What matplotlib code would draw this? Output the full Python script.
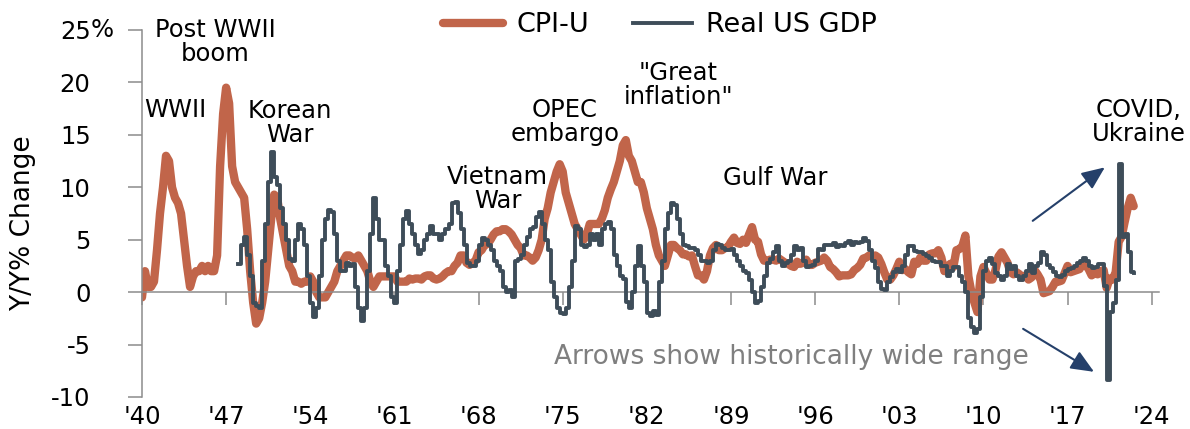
import numpy as np
import matplotlib
matplotlib.use("Agg")
import matplotlib.pyplot as plt

# CPI-U year-over-year % change, quarterly, 1940Q1 .. 2022Q3
cpi_start = 1940
cpi_yoy = [
    -0.5, 2.0, 0.5, 0.5,   1.0, 4.0, 7.5, 10.0,   13.0, 12.5, 10.0, 9.0,   8.5, 7.5, 5.0, 2.5,
    0.5, 1.5, 2.0, 2.0,    2.5, 2.0, 2.5, 2.0,    2.0, 3.5, 12.0, 17.0,   19.5, 18.0, 12.0, 10.5,
    10.0, 9.5, 9.0, 6.0,   2.0, -1.0, -3.0, -2.5,  -1.0, 1.0, 4.0, 7.0,   9.3, 9.0, 7.0, 5.5,
    4.0, 2.5, 2.0, 1.0,    1.0, 0.8, 1.0, 1.0,    1.5, 1.0, 0.0, -0.5,   -0.5, -0.5, 0.0, 0.5,
    1.0, 2.0, 2.5, 3.0,    3.5, 3.5, 3.3, 3.2,    3.5, 3.0, 2.5, 2.0,    1.0, 0.5, 1.0, 1.5,
    1.5, 1.5, 1.5, 1.5,    1.5, 1.0, 1.0, 1.0,    1.0, 1.3, 1.2, 1.3,    1.3, 1.2, 1.5, 1.6,
    1.6, 1.3, 1.2, 1.3,    1.5, 1.8, 2.0, 2.0,    2.5, 2.8, 3.5, 3.5,    2.8, 2.6, 2.8, 3.0,
    3.8, 4.0, 4.5, 4.6,    5.0, 5.5, 5.8, 5.8,    6.0, 6.0, 5.8, 5.5,    5.0, 4.5, 4.2, 3.5,
    3.5, 3.3, 3.0, 3.3,    4.0, 5.0, 7.0, 8.0,    9.5, 10.5, 11.5, 12.2,  11.5, 9.5, 8.5, 7.5,
    6.5, 6.0, 5.5, 5.0,    5.5, 6.5, 6.5, 6.5,    6.5, 7.0, 7.8, 9.0,    9.8, 10.5, 11.5, 12.5,
    14.0, 14.5, 13.0, 12.5, 11.5, 10.5, 10.5, 9.5, 8.0, 7.0, 6.0, 4.5,   3.5, 3.0, 2.5, 3.5,
    4.5, 4.5, 4.2, 4.0,    3.6, 3.6, 3.4, 3.5,    2.5, 1.6, 1.6, 1.2,    2.0, 3.5, 4.2, 4.5,
    4.0, 4.0, 4.2, 4.3,    4.8, 5.2, 4.7, 4.6,    5.0, 4.7, 5.5, 6.2,    5.0, 4.8, 3.6, 3.0,
    3.0, 3.1, 3.1, 3.0,    3.2, 3.0, 2.8, 2.7,    2.5, 2.4, 2.9, 2.7,    2.8, 3.1, 2.6, 2.6,
    2.8, 2.9, 3.0, 3.3,    3.0, 2.4, 2.2, 1.9,    1.5, 1.6, 1.6, 1.6,    1.7, 2.1, 2.3, 2.6,
    3.2, 3.3, 3.5, 3.4,    3.5, 3.3, 2.7, 1.9,    1.2, 1.2, 1.6, 2.2,    2.9, 2.1, 2.2, 1.9,
    1.7, 2.9, 2.7, 3.3,    3.0, 3.0, 3.6, 3.7,    3.7, 4.0, 3.3, 2.0,    2.4, 2.7, 2.4, 4.0,
    4.1, 4.4, 5.4, 1.5,    0.0, -1.0, -1.9, 1.5,  2.4, 1.8, 1.2, 1.2,    2.1, 3.4, 3.8, 3.3,
    2.8, 1.9, 1.7, 1.9,    1.7, 1.4, 1.6, 1.2,    1.4, 2.1, 1.7, 1.2,    -0.1, 0.0, 0.1, 0.5,
    1.0, 1.0, 1.1, 1.8,    2.5, 1.9, 2.0, 2.1,    2.2, 2.8, 2.6, 2.2,    1.6, 1.8, 1.7, 2.0,
    2.1, 0.4, 1.3, 1.2,    1.9, 4.8, 5.3, 6.7,    8.0, 9.0, 8.2,
]

# Real US GDP year-over-year % change, quarterly, 1948Q1 .. 2022Q3
gdp_start = 1948
gdp_yoy = [
    2.7, 4.5, 5.3, 3.5,    1.5, -1.0, -1.3, -1.5,  3.0, 6.5, 10.5, 13.4,  11.0, 10.2, 8.0, 6.5,
    5.0, 3.2, 3.0, 5.0,    6.5, 6.0, 4.5, 1.5,    -1.0, -2.4, -1.5, 1.5,  5.0, 7.0, 7.8, 7.6,
    5.5, 3.0, 2.0, 2.0,    2.8, 2.5, 2.7, 0.5,    -1.5, -2.8, -1.5, 2.0,  5.5, 9.0, 7.0, 5.0,
    5.0, 2.5, 1.5, -0.5,   -1.0, 2.0, 4.5, 7.0,   7.7, 6.5, 5.5, 4.5,    3.6, 4.0, 5.0, 5.5,
    6.3, 5.5, 5.5, 5.0,    5.5, 6.0, 6.5, 8.5,    8.6, 7.5, 6.0, 4.5,    2.8, 2.5, 2.5, 3.0,
    4.5, 5.2, 5.0, 4.5,    4.0, 3.0, 2.5, 2.0,    0.5, 0.0, 0.2, -0.5,   3.0, 3.2, 3.5, 4.5,
    5.3, 6.0, 6.2, 7.2,    7.6, 6.5, 5.0, 4.0,    1.0, -0.5, -1.5, -2.0,  -2.1, -1.5, 0.5, 3.0,
    6.3, 6.0, 4.5, 4.3,    4.5, 5.5, 5.0, 5.5,    4.5, 6.0, 6.5, 6.7,    6.0, 3.5, 2.5, 1.5,
    1.3, -0.9, -1.5, 0.0,  2.5, 4.4, 2.5, 1.0,    -2.0, -2.3, -1.8, -2.2, 1.0, 3.0, 6.0, 7.5,
    8.5, 8.3, 7.0, 5.5,    4.5, 4.4, 4.2, 4.2,    4.0, 3.5, 3.0, 3.0,    2.8, 3.0, 4.0, 4.6,
    4.5, 4.2, 4.0, 4.0,    4.1, 3.5, 3.0, 2.5,    2.0, 1.8, 1.2, 0.0,    -1.0, -0.8, 0.5, 1.5,
    2.8, 3.2, 3.8, 4.4,    3.0, 2.5, 2.8, 3.0,    3.5, 4.4, 4.0, 4.2,    3.0, 2.4, 2.5, 2.6,
    3.0, 4.1, 4.0, 4.5,    4.5, 4.5, 4.7, 4.3,    4.5, 4.4, 4.7, 4.9,    4.5, 4.8, 4.7, 4.8,
    5.2, 4.9, 4.0, 3.0,    2.3, 1.0, 0.3, 0.2,    1.0, 1.4, 1.9, 2.2,    1.9, 2.5, 3.5, 4.4,
    4.4, 3.9, 3.8, 3.8,    3.6, 3.4, 3.3, 3.0,    2.9, 2.9, 2.5, 2.5,    1.5, 2.0, 2.4, 2.4,
    1.5, 1.0, 0.0, -2.5,   -3.3, -3.9, -3.5, -0.5, 2.0, 3.0, 3.3, 2.7,   1.8, 1.5, 1.2, 1.5,
    2.7, 2.2, 2.5, 1.5,    1.2, 1.5, 2.0, 2.7,    1.8, 2.5, 2.8, 3.8,    3.5, 2.6, 2.3, 1.9,
    1.5, 1.4, 1.6, 2.0,    2.2, 2.3, 2.5, 2.8,    3.0, 3.3, 3.0, 2.5,    2.3, 2.4, 2.7, 2.7,
    0.6, -8.4, -1.9, -1.0, 1.2, 12.2, 5.3, 5.5,   3.8, 1.9, 1.8,
]

x_ticks = [1940, 1947, 1954, 1961, 1968, 1975, 1982, 1989, 1996, 2003, 2010, 2017, 2024]
x_ticklabels = ["'40", "'47", "'54", "'61", "'68", "'75", "'82", "'89", "'96", "'03", "'10", "'17", "'24"]
y_ticks = [-10, -5, 0, 5, 10, 15, 20, 25]

# event labels: (text, year, value)
events = [
    ("Post WWII\nboom", 1946.1, 23.9),
    ("WWII", 1942.8, 17.4),
    ("Korean\nWar", 1952.3, 16.1),
    ("Vietnam\nWar", 1969.6, 9.8),
    ("OPEC\nembargo", 1975.2, 16.2),
    ("\"Great\ninflation\"", 1984.6, 19.8),
    ("Gulf War", 1992.7, 10.9),
    ("COVID,\nUkraine", 2022.9, 16.2),
]

cpi_color = "#c1654a"
gdp_color = "#3e4d59"
arrow_color = "#25406a"
axis_gray = "#8c8c8c"

plt.rcParams["font.family"] = ["DejaVu Sans"]

cpi_x = cpi_start + np.arange(len(cpi_yoy)) / 4
gdp_x = gdp_start + np.arange(len(gdp_yoy)) / 4

fig = plt.figure(figsize=(11.9, 4.29), dpi=100)
ax = fig.add_axes([0.1193, 0.0746, 0.8546, 0.8555])

ax.plot(cpi_x, cpi_yoy, color=cpi_color, lw=6, solid_joinstyle="round",
        solid_capstyle="round", label="CPI-U", zorder=2)
ax.plot(gdp_x, gdp_yoy, color=gdp_color, lw=2.8, drawstyle="steps-post",
        label="Real US GDP", zorder=3)

ax.set_xlim(1940, 2024.6)
ax.set_ylim(-10, 25)

# axes styling: zero line acts as x axis, labels sit at the bottom
for s in ["top", "right"]:
    ax.spines[s].set_visible(False)
ax.spines["bottom"].set_position(("data", 0))
ax.spines["bottom"].set_color(axis_gray)
ax.spines["bottom"].set_linewidth(1.1)
ax.spines["left"].set_color(axis_gray)
ax.spines["left"].set_linewidth(1.1)

ax.set_xticks(x_ticks)
ax.set_xticklabels(x_ticklabels)
ax.tick_params(axis="x", direction="out", length=9, width=1.1, color=axis_gray,
               pad=72, labelsize=17.5)
ax.set_yticks(y_ticks)
ax.set_yticklabels([str(v) for v in y_ticks])
ax.tick_params(axis="y", direction="out", length=10, width=1.1, color=axis_gray,
               pad=27, labelsize=17.5)
ax.annotate("%", xy=(0, 25), xycoords=("axes fraction", "data"),
            xytext=(-37, 0), textcoords="offset points",
            ha="left", va="center", fontsize=17.5)

fig.text(23 / 1190, 1 - 223 / 429, "Y/Y% Change", rotation=90,
         ha="center", va="center", fontsize=19)

for txt, xx, yy in events:
    ax.text(xx, yy, txt, ha="center", va="center", fontsize=17.5,
            linespacing=1.0, zorder=4)

ax.text(1994.0, -6.2, "Arrows show historically wide range", color="#7f7f7f",
        ha="center", va="center", fontsize=19)

head = "-|>,head_length=0.7,head_width=0.3"
ax.annotate("", xy=(2020.1, 11.9), xytext=(2014.1, 6.8),
            arrowprops=dict(arrowstyle=head, color=arrow_color, lw=1.5,
                            mutation_scale=20, shrinkA=0, shrinkB=0))
ax.annotate("", xy=(2019.2, -7.6), xytext=(2013.3, -3.5),
            arrowprops=dict(arrowstyle=head, color=arrow_color, lw=1.5,
                            mutation_scale=20, shrinkA=0, shrinkB=0))

fig.legend(loc="center", bbox_to_anchor=(660 / 1190, 1 - 25 / 429), ncol=2,
           frameon=False, fontsize=19.5, handlelength=2.2, handletextpad=0.5,
           columnspacing=1.6)

fig.savefig("out.png", dpi=100)
